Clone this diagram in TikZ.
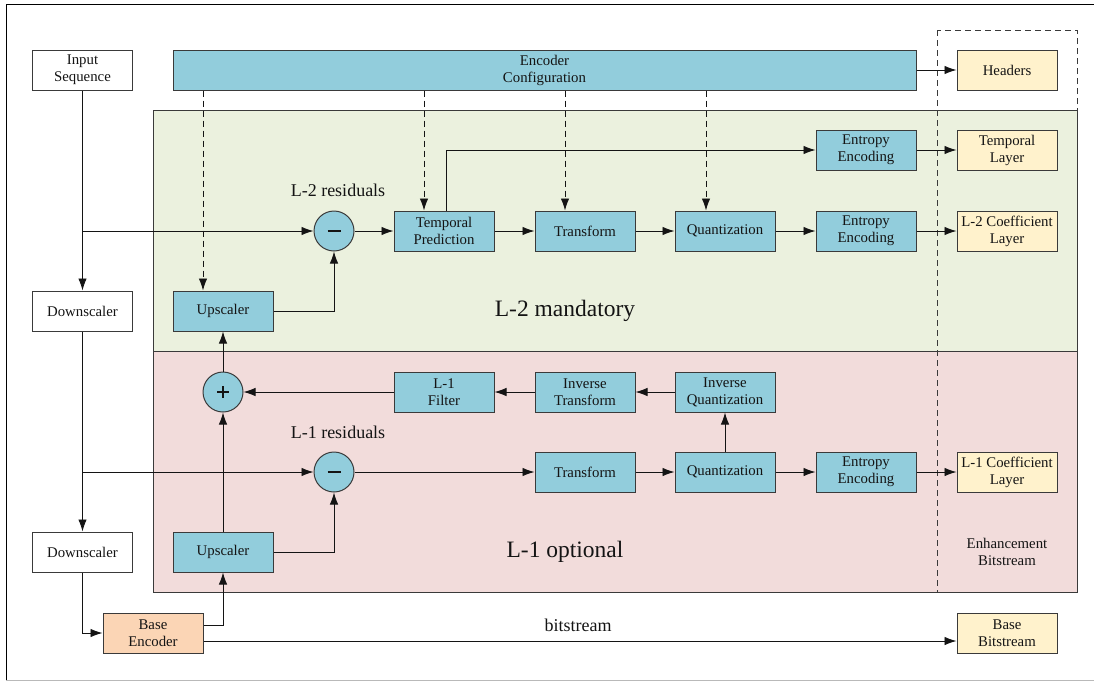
\documentclass[tikz,border=0pt]{standalone}
\usepackage{fontspec}
\setmainfont{Liberation Serif}
\usetikzlibrary{arrows.meta,calc}
\definecolor{procblue}{HTML}{92CDDC}
\definecolor{outyellow}{HTML}{FFF2CC}
\definecolor{baseorange}{HTML}{FBD5B5}
\definecolor{l2green}{HTML}{EBF1DE}
\definecolor{l1pink}{HTML}{F2DCDB}
\definecolor{boxline}{HTML}{3A3A3A}
\definecolor{inkdark}{HTML}{141414}
\begin{document}
\begin{tikzpicture}[x=1pt,y=-1pt,
  box/.style={draw=boxline, line width=1pt, minimum width=100pt, minimum height=40pt,
    inner sep=1pt, align=center, text=inkdark, font=\fontsize{14.8}{17}\selectfont},
  proc/.style={box, fill=procblue},
  outbox/.style={box, fill=outyellow},
  plainbox/.style={box, fill=white},
  op/.style={circle, draw=boxline, line width=1pt, fill=procblue, minimum size=40pt,
    inner sep=0pt, text=inkdark},
  flow/.style={-{Latex[length=12pt,width=8.5pt]}, line width=0.9pt, draw=inkdark},
  cfg/.style={flow, dash pattern=on 6pt off 4pt},
  region/.style={draw=boxline, line width=1pt},
  biglabel/.style={text=inkdark, font=\fontsize{23.5}{26}\selectfont},
  midlabel/.style={text=inkdark, font=\fontsize{18}{21}\selectfont},
  note/.style={text=inkdark, align=center, font=\fontsize{14.8}{17}\selectfont},
  sign/.style={line width=2.2pt, draw=inkdark},
]
\useasboundingbox (0,0) rectangle (1094,681);

% outer frame
\draw[black, line width=1pt] (6,680) -- (6,4) -- (1094,4);
\draw[gray!55, line width=1pt] (6,680) -- (1094,680);

% layer regions
\draw[region, fill=l2green] (153,110) rectangle (1077,351);
\draw[region, fill=l1pink] (153,351) rectangle (1077,592);
% enhancement bitstream group
\draw[boxline, line width=1pt, dash pattern=on 6pt off 4pt] (937,30) rectangle (1077,592);

% top row
\node[plainbox] (inp) at (82.5,70) {Input\\Sequence};
\node[proc, minimum width=743pt] (cfg) at (544.5,70) {Encoder\\Configuration};
\node[outbox] (hdr) at (1007,70) {Headers};

% L-2 layer
\node[proc] (entT) at (866,150) {Entropy\\Encoding};
\node[outbox] (tlay) at (1007,150) {Temporal\\Layer};
\node[op] (sub2) at (334,231) {};
\node[proc] (tp) at (444,231) {Temporal\\Prediction};
\node[proc] (tr2) at (585,231) {Transform};
\node[proc] (q2) at (725,231) {Quantization};
\node[proc] (ent2) at (866,231) {Entropy\\Encoding};
\node[outbox] (l2c) at (1007,231) {L-2 Coefficient\\Layer};
\node[proc] (up2) at (223,311) {Upscaler};
\node[plainbox] (ds1) at (82.5,311) {Downscaler};
\node[midlabel] (l2res) at (338,190) {L-2 residuals};
\node[biglabel] (l2name) at (565,311) {L-2 mandatory};

% L-1 layer
\node[op] (add) at (223,392) {};
\node[proc] (filt) at (444,392) {L-1\\Filter};
\node[proc] (itr) at (585,392) {Inverse\\Transform};
\node[proc] (iq) at (725,392) {Inverse\\Quantization};
\node[op] (sub1) at (334,472) {};
\node[proc] (tr1) at (585,472) {Transform};
\node[proc] (q1) at (725,472) {Quantization};
\node[proc] (ent1) at (866,472) {Entropy\\Encoding};
\node[outbox] (l1c) at (1007,472) {L-1 Coefficient\\Layer};
\node[plainbox] (ds2) at (82.5,552) {Downscaler};
\node[proc] (up1) at (223,552) {Upscaler};
\node[midlabel] (l1res) at (338,432) {L-1 residuals};
\node[biglabel] (l1name) at (565,552) {L-1 optional};
\node[note] (enh) at (1007,552) {Enhancement\\Bitstream};

% base layer
\node[box, fill=baseorange] (benc) at (153,633) {Base\\Encoder};
\node[outbox] (bbs) at (1007,633) {Base\\Bitstream};
\node[midlabel] (bslab) at (578,625) {bitstream};

% operator signs
\draw[sign] ($(sub2)+(-6.5,0)$) -- ($(sub2)+(6.5,0)$);
\draw[sign] ($(sub1)+(-6.5,0)$) -- ($(sub1)+(6.5,0)$);
\draw[line width=1.8pt, draw=inkdark] ($(add)+(-6,0)$) -- ($(add)+(6,0)$)
  ($(add)+(0,-6)$) -- ($(add)+(0,6)$);

% main input path
\draw[flow] (inp) -- (ds1);
\draw[flow] (ds1) -- (ds2);
\draw[flow] (ds2.south) |- (benc.west);
\draw[flow] (inp.south |- sub2) -- (sub2);
\draw[flow] (inp.south |- sub1) -- (sub1);

% base encoder outputs
\coordinate (bencA) at ($(benc.east)+(0,-8)$);
\coordinate (bencB) at ($(benc.east)+(0,8)$);
\coordinate (bbsIn) at ($(bbs.west)+(0,8)$);
\draw[flow] (bencA) -| (up1.south);
\draw[flow] (bencB) -- (bbsIn);

% reconstruction path
\draw[flow] (up1) -- (add);
\draw[flow] (add) -- (up2);
\draw[flow] (up2.east) -| (sub2.south);
\draw[flow] (up1.east) -| (sub1.south);

% L-2 chain
\draw[flow] (sub2) -- (tp);
\draw[flow] (tp) -- (tr2);
\draw[flow] (tr2) -- (q2);
\draw[flow] (q2) -- (ent2);
\draw[flow] (ent2) -- (l2c);
\coordinate (tpOut) at ($(tp.north)+(2.5,0)$);
\draw[flow] (tpOut) |- (entT.west);
\draw[flow] (entT) -- (tlay);

% L-1 chain
\draw[flow] (sub1) -- (tr1);
\draw[flow] (tr1) -- (q1);
\draw[flow] (q1) -- (ent1);
\draw[flow] (ent1) -- (l1c);
\draw[flow] (q1) -- (iq);
\draw[flow] (iq) -- (itr);
\draw[flow] (itr) -- (filt);
\draw[flow] (filt) -- (add);

% encoder configuration
\draw[flow] (cfg) -- (hdr);
\coordinate (c1) at ($(up2.north)+(-20,0)$);
\coordinate (c2) at ($(tp.north)+(-20,0)$);
\coordinate (c3) at ($(tr2.north)+(-20,0)$);
\coordinate (c4) at ($(q2.north)+(-19,0)$);
\draw[cfg] (c1 |- cfg.south) -- (c1);
\draw[cfg] (c2 |- cfg.south) -- (c2);
\draw[cfg] (c3 |- cfg.south) -- (c3);
\draw[cfg] (c4 |- cfg.south) -- (c4);
\end{tikzpicture}
\end{document}
